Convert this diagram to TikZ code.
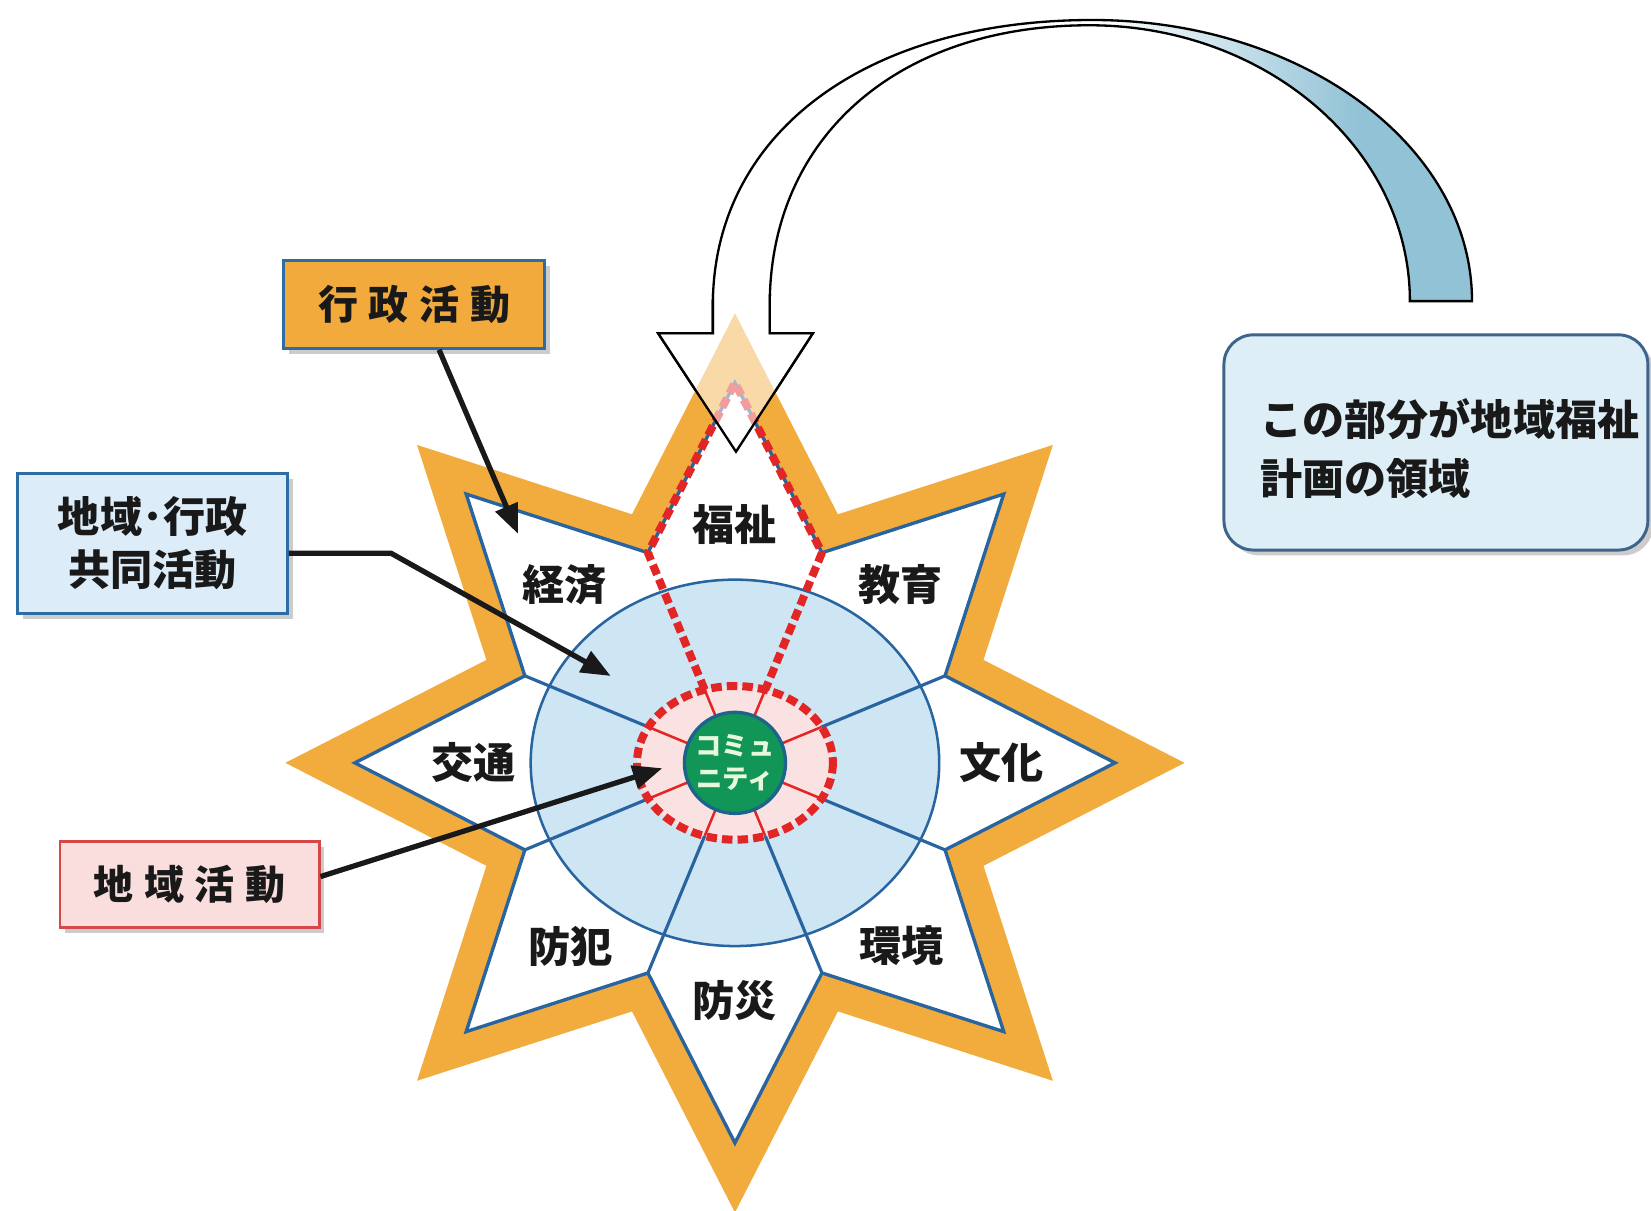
\documentclass[tikz,border=0pt]{standalone}
\usepackage{fontspec}
\newfontfamily\jp{Noto Sans CJK JP}
\usetikzlibrary{arrows.meta,shadows}

\definecolor{starorange}{RGB}{242,172,62}
\definecolor{starblue}{RGB}{40,100,160}
\definecolor{circfill}{RGB}{206,230,244}
\definecolor{dashred}{RGB}{226,38,38}
\definecolor{pinkfill}{RGB}{251,226,226}
\definecolor{commgreen}{RGB}{18,150,88}
\definecolor{commedge}{RGB}{28,100,140}
\definecolor{commtext}{RGB}{232,248,218}
\definecolor{arrowblue}{RGB}{146,194,214}
\definecolor{boxorange}{RGB}{242,170,60}
\definecolor{boxblue}{RGB}{220,236,248}
\definecolor{boxpink}{RGB}{250,222,222}
\definecolor{boxedge}{RGB}{46,108,164}
\definecolor{boxred}{RGB}{214,72,72}
\definecolor{calloutfill}{RGB}{222,238,247}
\definecolor{calloutedge}{RGB}{62,100,140}
\definecolor{ink}{RGB}{25,25,25}

\pgfdeclarehorizontalshading{arrowsh}{100bp}{color(0bp)=(white); color(52bp)=(white); color(68bp)=(arrowblue); color(100bp)=(arrowblue)}

\newcommand\bigarrowpath{(1398,286) .. controls (1398,138.5) and (1236.6,19) .. (1037.5,19) .. controls (821.2,19) and (677,127.4) .. (677,290) -- (677,316.5) -- (625,316.5) -- (699,429) -- (772,316.5) -- (731,316.5) -- (731,290) .. controls (731,130.4) and (852.4,24) .. (1034.5,24) .. controls (1202.1,24) and (1339,141.3) .. (1339,286) -- cycle}

\tikzset{
  lab/.style={font=\jp\bfseries\fontsize{20}{24}\selectfont, text=ink, inner sep=0pt},
  boxbase/.style={draw, line width=1.4pt, inner sep=0pt,
    drop shadow={shadow xshift=2.5pt, shadow yshift=-2.5pt, opacity=0.4}},
  boxtext/.style={font=\jp\bfseries\fontsize{19}{25.3}\selectfont, text=ink, align=center},
  conn/.style={draw=ink, line width=2.5pt, line join=miter, -{Triangle[length=14pt,width=11pt]}},
  reddash/.style={draw=dashred, line width=3.8pt, dash pattern=on 5pt off 2.4pt},
}

\begin{document}
\begin{tikzpicture}[x=0.5pt,y=-0.5pt]
\fill[white] (0,0) rectangle (1568,1150);
\useasboundingbox (0,0) rectangle (1568,1150);

% big curved arrow (opaque pass)
\shade[shading=arrowsh, draw=black, line width=1.1pt, line join=miter] \bigarrowpath;

\begin{scope}[shift={(698,724.5)}]
  % orange star
  \fill[starorange] (0:427)
    \foreach \i [evaluate=\i as \r using {mod(\i,2)==0 ? 427 : 255.5}] in {1,...,15} { -- ({\i*22.5}:\r) } -- cycle;
  % white star
  \filldraw[fill=white, draw=starblue, line width=1.6pt, line join=miter] (0:361)
    \foreach \i [evaluate=\i as \r using {mod(\i,2)==0 ? 361 : 216}] in {1,...,15} { -- ({\i*22.5}:\r) } -- cycle;
  % light blue ellipse
  \filldraw[fill=circfill, draw=starblue, line width=1.2pt] (0,0) ellipse [x radius=194, y radius=174];
  % blue spokes
  \foreach \a in {22.5,67.5,112.5,157.5,202.5,337.5}
    \draw[starblue, line width=1.5pt] (0,0) -- (\a:216);
  % red ellipse
  \fill[pinkfill] (0,0) ellipse [x radius=93, y radius=73];
  \foreach \a/\r in {22.5/89,157.5/89,202.5/89,337.5/89,67.5/75.1,112.5/75.1,247.5/75.1,292.5/75.1}
    \draw[dashred, line width=1.2pt] (\a:48) -- (\a:\r);
  \draw[reddash] (0,0) ellipse [x radius=93, y radius=73];
  % community circle
  \node[circle, fill=commgreen, draw=commedge, line width=1.6pt, minimum size=48pt, inner sep=0pt,
        align=center, text=commtext, font=\jp\bfseries\fontsize{12.5}{15.5}\selectfont] (comm) at (0,0) {コミュ\\ニティ};
  % welfare kite
  \draw[reddash, line join=round] (247.5:75.1) -- (247.5:216) -- (270:361) -- (292.5:216) -- (292.5:75.1);
  % sector labels
  \node[lab] (fukushi) at (0,-226.5) {福祉};
  \node[lab] (kyoiku) at (157,-169.5) {教育};
  \node[lab] (bunka) at (253,0) {文化};
  \node[lab] (kankyo) at (158,174) {環境};
  \node[lab] (bosai) at (0,226) {防災};
  \node[lab] (bohan) at (-156,174) {防犯};
  \node[lab] (kotsu) at (-248,0) {交通};
  \node[lab] (keizai) at (-162,-169.5) {経済};
\end{scope}

% translucent overlay of the arrow head over the star tip
\begin{scope}
  \clip (600,280) rectangle (800,440);
  \fill[white, fill opacity=0.55] \bigarrowpath;
  \draw[black, line width=1.1pt, line join=miter] \bigarrowpath;
\end{scope}

% boxes
\node[boxbase, draw=boxedge, fill=boxorange, minimum width=123.8pt, minimum height=41.6pt, boxtext]
  (gyosei) at (393.4,289.2) {行\hspace{5pt}政\hspace{5pt}活\hspace{5pt}動};
\node[boxbase, draw=boxedge, fill=boxblue, minimum width=128pt, minimum height=66.5pt, boxtext,
  font=\jp\bfseries\fontsize{20}{25.3}\selectfont]
  (kyodo) at (145,516) {地域･行政\\共同活動};
\node[boxbase, draw=boxred, fill=boxpink, minimum width=123pt, minimum height=41pt, boxtext]
  (chiiki) at (180,840) {地\hspace{5pt}域\hspace{5pt}活\hspace{5pt}動};
\node[boxbase, draw=calloutedge, fill=calloutfill, rounded corners=14pt, minimum width=201.3pt, minimum height=102.2pt]
  (callout) at (1363.7,420.2) {};
\node[anchor=west, align=left, inner sep=0pt, text=ink, font=\jp\bfseries\fontsize{20}{28}\selectfont]
  (callouttext) at (1196.6,426) {この部分が地域福祉\\計画の領域};

% connectors
\coordinate (t1) at (492,507);
\coordinate (e2) at (371.5,525.5);
\coordinate (t2) at (580,642);
\coordinate (t3) at (629,729.6);
\draw[conn] ([xshift=11.8pt]gyosei.south) -- (t1);
\draw[conn] (kyodo.east |- e2) -- (e2) -- (t2);
\draw[conn] ([yshift=3.75pt]chiiki.east) -- (t3);
\end{tikzpicture}
\end{document}
